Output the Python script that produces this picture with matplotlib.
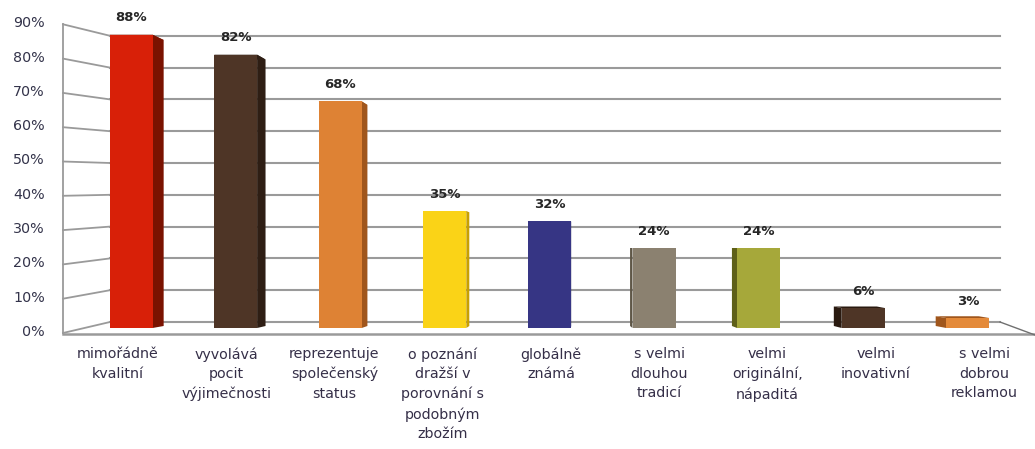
import matplotlib.pyplot as plt
from matplotlib.patches import Polygon

# data
kategorie = ['mimořádně\nkvalitní', 'vyvolává\npocit\nvýjimečnosti', 'reprezentuje\nspolečenský\nstatus',
             'o poznání\ndražší v\nporovnání s\npodobným\nzbožím', 'globálně\nznámá',
             's velmi\ndlouhou\ntradicí', 'velmi\noriginální,\nnápaditá', 'velmi\ninovativní',
             's velmi\ndobrou\nreklamou']
hodnoty = [88, 82, 68, 35, 32, 24, 24, 6, 3]
barvy = ['#D82008', '#4E3526', '#DE8234', '#FAD317', '#363584', '#8B8170', '#A6A83A', '#4E3526', '#E48A3A']
boky = ['#7A1200', '#2E1E14', '#A0561C', '#C8A000', '#222258', '#5E5646', '#5E6018', '#2A1A10', '#A0561C']
urovne = [0, 10, 20, 30, 40, 50, 60, 70, 80, 90]

W, H = 1035, 449
X0, DX = 131, 104.6     # first bar centre / bar spacing (px)
Y0, DY = 328, 3.333     # bar base / px per percent

def xd(px):  # pixel -> data x
    return (px - X0) / DX

def yd(px):  # pixel (from top) -> data y
    return (Y0 - px) / DY

fig = plt.figure(figsize=(W / 100, H / 100), dpi=100)
ax = fig.add_axes([0, 0, 1, 1])
ax.set_xlim(xd(0), xd(W))
ax.set_ylim(yd(H), yd(0))
ax.axis('off')

font = 'DejaVu Sans'
grid = '#9a9a9a'

# back wall gridlines + left wall
for v in urovne:
    yb = yd(322 - 3.18 * v)
    yf = yd(333 - 34.3 * v / 10)
    ax.plot([xd(110), xd(1000)], [yb, yb], color=grid, lw=1.5, zorder=1)
    ax.plot([xd(63), xd(110)], [yf, yb], color=grid, lw=1.3, zorder=1)
    ax.text(xd(45), yf + 1 / DY, f'{v}%', ha='right', va='center', fontsize=10.3, family=font,
            color='#33334a')
ax.plot([xd(63), xd(63)], [yd(333), yd(24)], color=grid, lw=1.3, zorder=1)
# floor
ax.plot([xd(63), xd(1035)], [yd(334), yd(334)], color=grid, lw=1.8, zorder=1)
ax.plot([xd(1000), xd(1035)], [yd(322), yd(335)], color='#707070', lw=1.0, zorder=1)

# bars with fake perspective faces
sirka = 43 / DX
for i, v in enumerate(hodnoty):
    x0 = i - sirka / 2
    x1 = i + sirka / 2
    w = -((X0 + DX * i) - 560) * 0.026 / DX
    yb_top = (2 + 3.25 * v) / DY
    yb_bot = 2 / DY
    hrana = x1 if w > 0 else x0
    bok = Polygon([(hrana, 0), (hrana, v), (hrana + w, yb_top), (hrana + w, yb_bot)],
                  closed=True, facecolor=boky[i], edgecolor='none', zorder=2)
    ax.add_patch(bok)
    vrch = Polygon([(x0, v), (x1, v), (x1 + w, yb_top), (x0 + w, yb_top)],
                   closed=True, facecolor=boky[i], edgecolor='none', zorder=2)
    ax.add_patch(vrch)
    ax.bar(i, v, width=sirka, color=barvy[i], zorder=3)
    ax.text(i, v + 17 / DY, f'{v}%', ha='center', va='center', fontsize=9.5,
            fontweight='bold', family=font, color='#262626', zorder=4)
    ax.text(xd(118 + 108.25 * i), yd(347), kategorie[i], ha='center', va='top',
            fontsize=10.3, family=font, color='#352f48', linespacing=1.5)

fig.savefig('out.png', dpi=100)
